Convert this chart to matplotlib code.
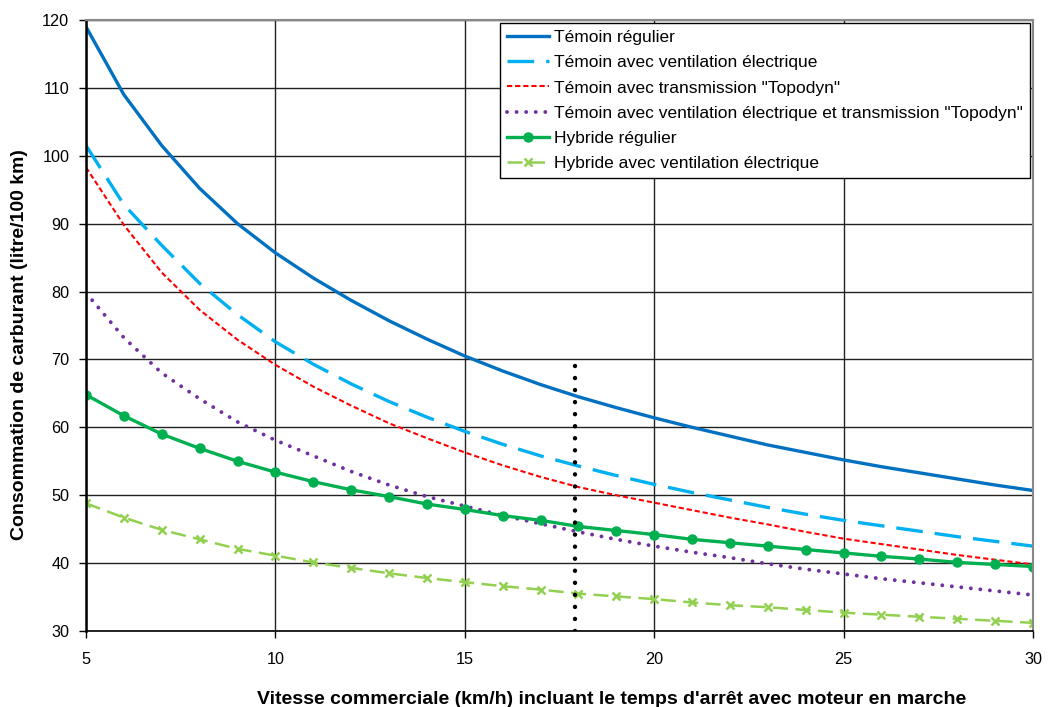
import numpy as np
import matplotlib
matplotlib.use('Agg')
import matplotlib.pyplot as plt

plt.rcParams['font.family'] = ['Liberation Sans', 'DejaVu Sans']

# données
vitesse = list(range(5, 31))

temoin_regulier = [119.0, 109.0, 101.5, 95.2, 90.0, 85.7, 82.0, 78.7, 75.7, 73.0,
                   70.5, 68.3, 66.3, 64.5, 62.9, 61.4, 60.0, 58.7, 57.4, 56.3,
                   55.2, 54.2, 53.3, 52.4, 51.5, 50.7]
temoin_ventil = [101.5, 92.8, 86.8, 81.2, 76.6, 72.6, 69.3, 66.4, 63.8, 61.5,
                 59.4, 57.5, 55.8, 54.3, 52.9, 51.6, 50.4, 49.3, 48.2, 47.2,
                 46.3, 45.5, 44.7, 43.9, 43.2, 42.5]
temoin_topodyn = [98.3, 89.8, 82.8, 77.3, 72.9, 69.2, 66.0, 63.2, 60.6, 58.4,
                  56.3, 54.4, 52.7, 51.2, 50.0, 48.9, 47.8, 46.7, 45.7, 44.6,
                  43.6, 42.8, 42.0, 41.2, 40.5, 39.8]
temoin_ventil_topodyn = [79.8, 73.2, 68.0, 64.2, 60.8, 58.1, 55.8, 53.5, 51.5, 49.8,
                         48.4, 47.0, 45.8, 44.6, 43.5, 42.5, 41.6, 40.8, 39.9, 39.1,
                         38.4, 37.7, 37.1, 36.5, 35.9, 35.3]
hybride_regulier = [64.8, 61.7, 59.0, 56.9, 55.0, 53.4, 52.0, 50.8, 49.8, 48.7,
                    47.9, 47.0, 46.3, 45.4, 44.8, 44.2, 43.5, 43.0, 42.5, 42.0,
                    41.5, 41.0, 40.6, 40.1, 39.8, 39.5]
hybride_ventil = [48.8, 46.7, 44.9, 43.5, 42.1, 41.1, 40.1, 39.3, 38.5, 37.8,
                  37.2, 36.6, 36.1, 35.5, 35.1, 34.7, 34.2, 33.8, 33.5, 33.1,
                  32.7, 32.4, 32.1, 31.8, 31.5, 31.2]

# ligne verticale pointillée
repere_x = [17.9, 17.9]
repere_y = [30, 69]

fig = plt.figure(figsize=(10.53, 7.07), dpi=100)
ax = fig.add_axes([86/1053, 1 - 631/707, (1033 - 86)/1053, (631 - 20)/707])

ax.plot(vitesse, temoin_regulier, color='#0070C0', lw=2.4, label='Témoin régulier')
ax.plot(vitesse, temoin_ventil, color='#00B0F0', lw=2.4, dashes=(8, 3.6),
        label='Témoin avec ventilation électrique')
ax.plot(vitesse, temoin_topodyn, color='#FF0000', lw=1.5, dashes=(2.5, 1.4),
        label='Témoin avec transmission "Topodyn"')
ax.plot(vitesse, temoin_ventil_topodyn, color='#7030A0', lw=2.8, dashes=(0.01, 2.45),
        dash_capstyle='round',
        label='Témoin avec ventilation électrique et transmission "Topodyn"')
ax.plot(vitesse, hybride_regulier, color='#00B050', lw=2.4, marker='o', markersize=6.5,
        label='Hybride régulier')
ax.plot(vitesse, hybride_ventil, color='#92D050', lw=1.8, dashes=(6, 3), marker='x',
        markersize=6, markeredgewidth=1.8, label='Hybride avec ventilation électrique')
ax.plot(repere_x, repere_y, color='black', lw=3.2, dashes=(0.01, 2.7),
        dash_capstyle='round')

ax.set_xlim(5, 30)
ax.set_ylim(30, 120)
ax.set_xticks(range(5, 31, 5))
ax.set_yticks(range(30, 121, 10))
ax.grid(True, color='#222222', lw=1.0)
ax.set_axisbelow(True)

for s in ['top', 'right']:
    ax.spines[s].set_color('#888888')
    ax.spines[s].set_linewidth(1.5)
for s in ['left', 'bottom']:
    ax.spines[s].set_color('black')
ax.spines['left'].set_linewidth(1.8)
ax.spines['bottom'].set_linewidth(1.2)
ax.tick_params(axis='both', direction='out', length=5, width=1, labelsize=11.7)
ax.tick_params(axis='y', pad=7)
ax.tick_params(axis='x', pad=10)

fig.text(20/1053, 1 - 345/707, 'Consommation de carburant (litre/100 km)', rotation=90,
         ha='center', va='center', fontsize=14, fontweight='bold')
fig.text(612/1053, 1 - 704/707,
         "Vitesse commerciale (km/h) incluant le temps d'arrêt avec moteur en marche",
         ha='center', va='baseline', fontsize=14, fontweight='bold')

leg = ax.legend(loc='upper right', bbox_to_anchor=(1030/1053, 1 - 23/707),
                bbox_transform=fig.transFigure, borderaxespad=0, fontsize=12.5,
                fancybox=False, framealpha=1, edgecolor='black', handlelength=2.4,
                handletextpad=0.3, labelspacing=0.58, borderpad=0.4)
leg.get_frame().set_linewidth(1.0)

fig.savefig('out.png', dpi=100)
